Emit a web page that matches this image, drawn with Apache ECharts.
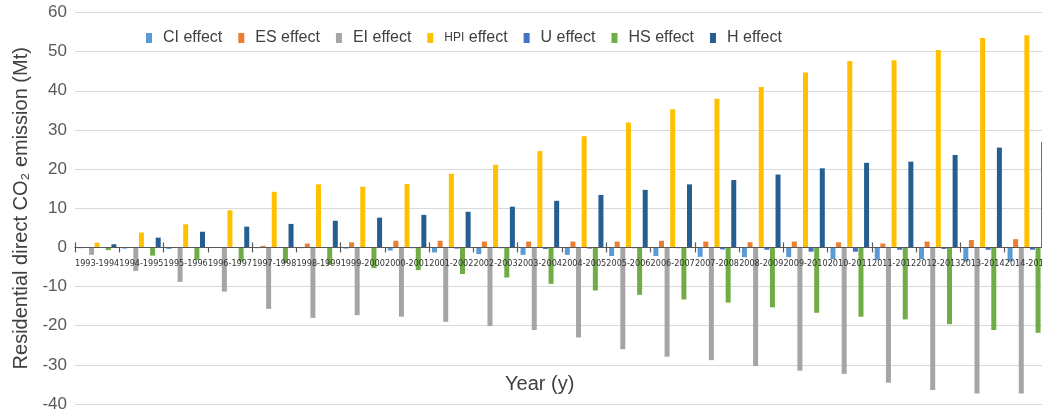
<!DOCTYPE html>
<html>
<head>
<meta charset="utf-8">
<script src="https://cdn.jsdelivr.net/npm/echarts@6/dist/echarts.min.js"></script>
<style>
html,body{margin:0;padding:0;background:#fff;}
#chart{width:1042px;height:412px;}
</style>
</head>
<body>
<div id="chart"></div>
<script>
const categories = ['1993-1994','1994-1995','1995-1996','1996-1997','1997-1998','1998-1999','1999-2000','2000-2001','2001-2002','2002-2003','2003-2004','2004-2005','2005-2006','2006-2007','2007-2008','2008-2009','2009-2010','2010-2011','2011-2012','2012-2013','2013-2014','2014-2015'];
const seriesNames = ['CI effect','ES effect','EI effect','HPI effect','U effect','HS effect','H effect'];
const ciEffect  = [-0.2,-0.3,-0.4,-0.1,-0.2,-0.2,-0.3,-0.8,-1.3,-1.7,-1.9,-1.9,-2.2,-2.2,-2.4,-2.5,-2.5,-3.0,-3.2,-3.0,-3.6,-3.6];
const esEffect  = [0.1,0.1,0.1,0.1,0.4,1.0,1.3,1.7,1.7,1.5,1.5,1.5,1.5,1.7,1.5,1.3,1.5,1.3,1.0,1.5,1.9,2.1];
const eiEffect  = [-1.9,-6.0,-8.8,-11.3,-15.7,-18.0,-17.3,-17.7,-19.0,-20.1,-21.1,-23.0,-26.0,-27.9,-28.8,-30.3,-31.5,-32.3,-34.6,-36.4,-37.3,-37.3];
const hpiEffect = [1.2,3.8,5.9,9.5,14.2,16.1,15.5,16.2,18.8,21.1,24.6,28.4,31.9,35.3,38.0,41.0,44.7,47.6,47.8,50.4,53.5,54.2];
const uEffect   = [-0.1,-0.1,-0.1,-0.1,-0.1,-0.1,-0.1,-0.2,-0.3,-0.2,-0.4,-0.3,-0.2,-0.2,-0.5,-0.6,-1.1,-1.1,-0.6,-0.4,-0.6,-0.6];
const hsEffect  = [-0.7,-2.1,-3.2,-3.6,-4.0,-4.5,-5.3,-5.8,-6.8,-7.7,-9.3,-11.0,-12.1,-13.3,-14.1,-15.3,-16.7,-17.7,-18.4,-19.6,-21.1,-21.8];
const hEffect   = [0.8,2.5,4.0,5.3,6.0,6.8,7.6,8.3,9.1,10.4,11.9,13.4,14.7,16.1,17.2,18.6,20.2,21.6,21.9,23.6,25.5,26.9];
const yMin = -40, yMax = 60, yInterval = 10;
const colors = ['#5B9BD5','#ED7D31','#A5A5A5','#FFC000','#4472C4','#70AD47','#255E91'];
const values = [ciEffect, esEffect, eiEffect, hpiEffect, uEffect, hsEffect, hEffect];

const W = 1042, H = 412;
const gridTop = 12.5, gridBottom = 8;
const gridH = H - gridTop - gridBottom;
const zeroOffset = -gridH * (0 - yMin) / (yMax - yMin);

const chart = echarts.init(document.getElementById('chart'), null, {renderer:'canvas'});
const font = 'Arial, "Liberation Sans", sans-serif';
const tickStyle = {color:'#595959', width:1.2};
chart.setOption({
  animation:false,
  color: colors,
  title: {
    text:'Year (y)', left:500, top:369,
    textStyle:{fontFamily:font, fontSize:20, fontWeight:'normal', color:'#404040'}
  },
  legend: {
    left:141, top:25, icon:'rect', itemWidth:6, itemHeight:10, itemGap:16,
    data: seriesNames,
    formatter: n => n === 'HPI effect' ? '{s|HPI} effect' : n,
    textStyle:{fontFamily:font, fontSize:16, color:'#404040', padding:[0,0,0,6],
      rich:{s:{fontFamily:font, fontSize:12, color:'#404040'}}}
  },
  grid: {left:75, right:-7, top:gridTop, bottom:gridBottom, containLabel:false, outerBoundsMode:'none'},
  xAxis: [{
    type:'category', data:categories, position:'bottom', offset:zeroOffset, z:5,
    axisLine:{onZero:false, lineStyle:tickStyle},
    axisTick:{show:true, length:5, lineStyle:tickStyle},
    axisLabel:{interval:0, margin:12, fontSize:9, color:'#333333',
      fontFamily:'"Liberation Sans Narrow", "DejaVu Sans Condensed", Arial, "Liberation Sans", sans-serif'}
  },{
    type:'category', data:categories, position:'bottom', offset:zeroOffset, z:5,
    axisLine:{show:false, onZero:false},
    axisTick:{show:true, inside:true, length:5, lineStyle:tickStyle},
    axisLabel:{show:false}, splitLine:{show:false}
  }],
  yAxis: {
    type:'value', min:yMin, max:yMax, interval:yInterval,
    name:'Residential direct CO₂ emission (Mt)', nameLocation:'middle', nameGap:42,
    nameTextStyle:{fontFamily:font, fontSize:20, color:'#404040'},
    axisLine:{show:false}, axisTick:{show:false},
    axisLabel:{fontFamily:font, fontSize:17, color:'#595959', margin:8},
    splitLine:{lineStyle:{color:'#D9D9D9', width:1}}
  },
  series: seriesNames.map((n,i)=>({
    name:n, type:'bar', xAxisIndex:0, data:values[i],
    barWidth:5, barGap:'12%',
    itemStyle:{color:colors[i]}
  }))
});
</script>
</body>
</html>
